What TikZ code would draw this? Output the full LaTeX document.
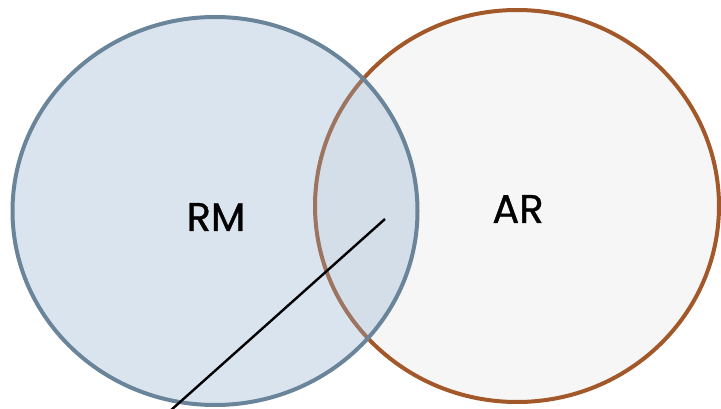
\documentclass[tikz,border=0pt]{standalone}
\usepackage{fontspec}
\setmainfont{Poppins}
\newfontfamily\labelfont{Poppins}[FakeBold=0.8]
\definecolor{rmfill}{RGB}{142,174,207}
\definecolor{rmline}{RGB}{106,132,153}
\definecolor{arfill}{RGB}{246,246,246}
\definecolor{arline}{RGB}{163,88,42}
\begin{document}
\begin{tikzpicture}[x=1pt,y=-1pt,
  setlabel/.style={font=\labelfont\fontsize{40}{48}\selectfont, text=black, inner sep=0pt}]
\useasboundingbox (0,0) rectangle (721,409);
\begin{scope}
\clip (0,0) rectangle (721,409);
\draw[line width=4pt, arline, fill=arfill] (517,206) ellipse [x radius=202, y radius=196];
\fill[rmfill, fill opacity=0.33] (215,211) ellipse [x radius=202.5, y radius=194];
\draw[line width=4pt, rmline] (215,211) ellipse [x radius=202.5, y radius=194];
\coordinate (lineA) at (385,219);
\coordinate (lineB) at (170,411);
\draw[line width=2.4pt, black] (lineA) -- (lineB);
\end{scope}
\node[setlabel] (rm) at (216,217) {RM};
\node[setlabel] (ar) at (518,209) {AR};
\end{tikzpicture}
\end{document}
